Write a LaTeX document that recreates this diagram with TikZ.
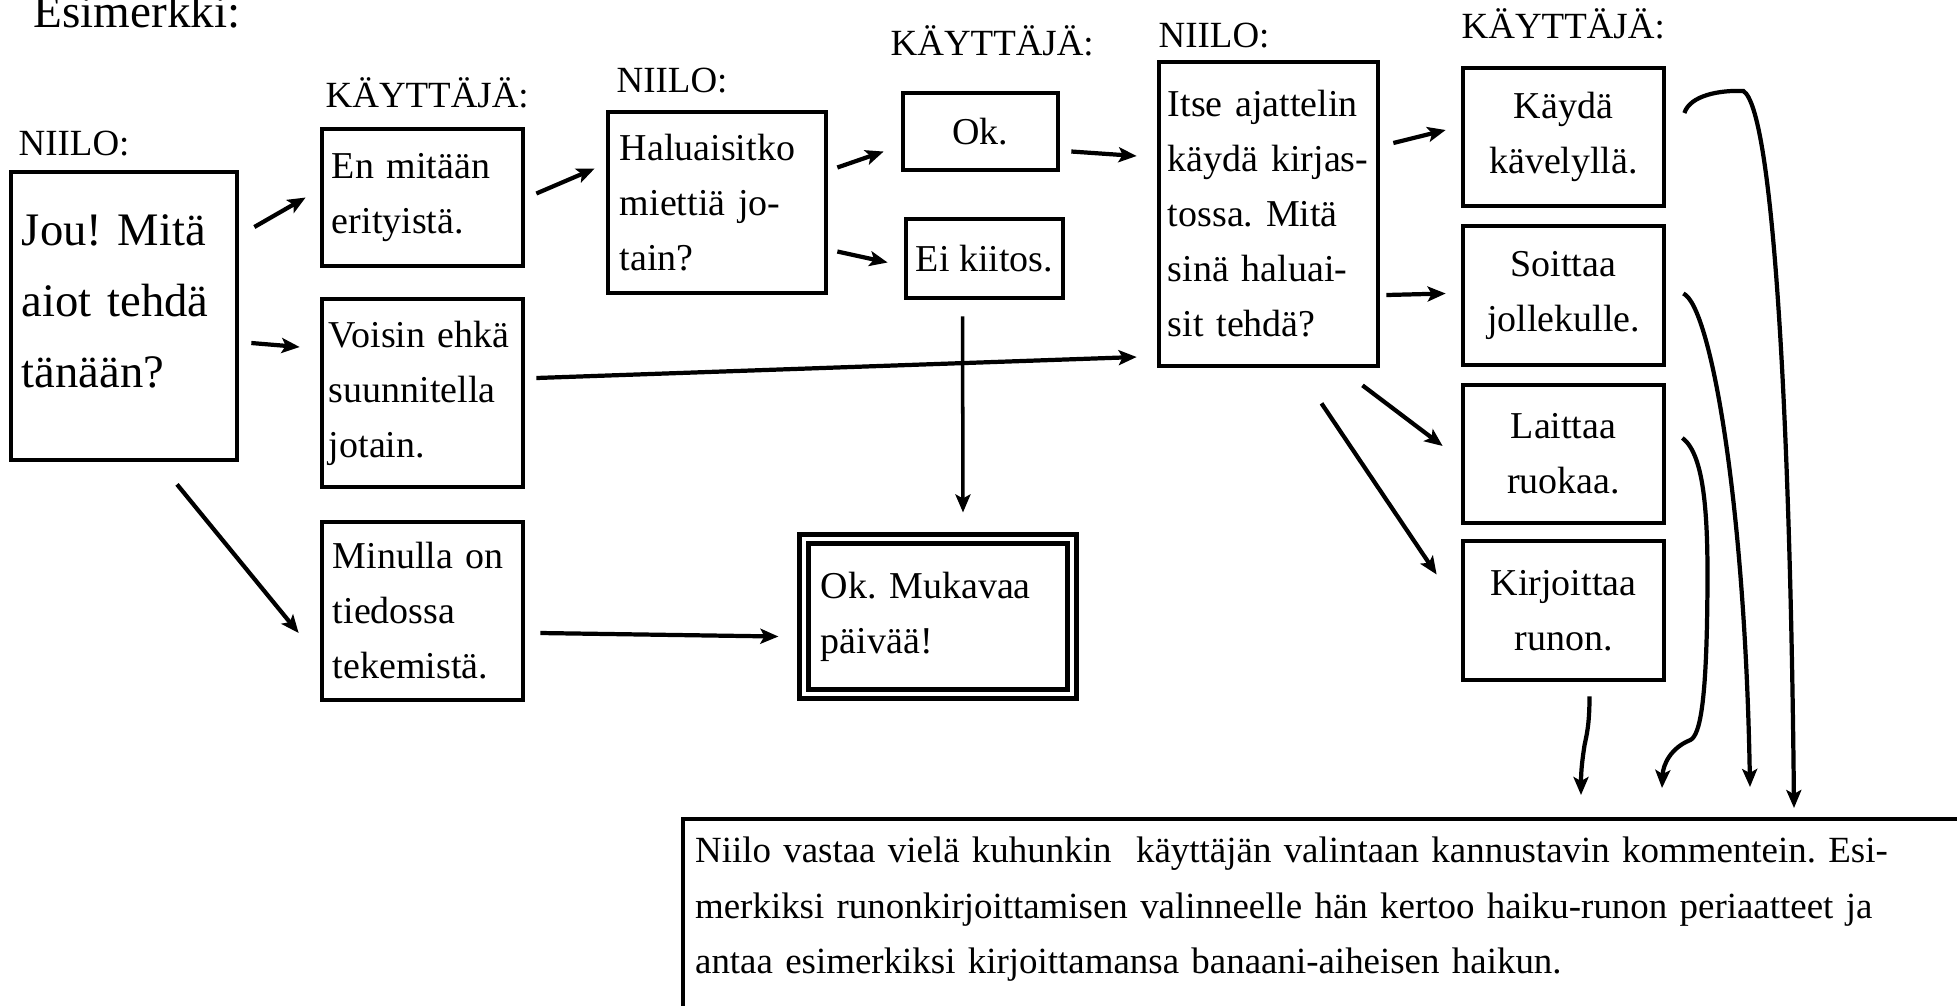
\documentclass[tikz,border=0pt]{standalone}
\usepackage{fontspec}
\setmainfont{Liberation Serif}
\usetikzlibrary{arrows.meta,calc}
\frenchspacing
\newcommand{\boxfont}{\fontsize{10.8pt}{15.65pt}\selectfont}
\newcommand{\jufont}{\fontsize{13.26pt}{20.3pt}\selectfont}
\newcommand{\labfont}{\fontsize{10.5pt}{12pt}\selectfont}
\newcommand{\notefont}{\fontsize{10.5pt}{15.8pt}\selectfont}
\newcommand{\titlefont}{\fontsize{13.4pt}{16pt}\selectfont}
\begin{document}
\begin{tikzpicture}[x=0.01cm, y=-0.01cm,
  box/.style={draw, line width=1.3pt, inner xsep=0.1cm, inner ysep=0pt, font=\boxfont},
  lbox/.style={box, align=left},
  cbox/.style={box, align=center, minimum width=2.01cm},
  lab/.style={anchor=base west, inner sep=0pt, font=\labfont},
  arr/.style={line width=1.2pt, -{Stealth[length=0.18cm, width=0.15cm, inset=0.04cm]}}]
    \useasboundingbox (0,0) rectangle (1957,1005);
    \clip (0,0) rectangle (1957,1005);

    % otsikot
    \node[lab, font=\titlefont] (esim) at (33,27) {Esimerkki:};
    \node[lab] (n1) at (18,155) {NIILO:};
    \node[lab] (k1) at (325,107) {KÄYTTÄJÄ:};
    \node[lab] (n2) at (616,92) {NIILO:};
    \node[lab] (k2) at (890,55) {KÄYTTÄJÄ:};
    \node[lab] (n3) at (1158,47) {NIILO:};
    \node[lab] (k3) at (1461,38) {KÄYTTÄJÄ:};

    % Niilo aloittaa
    \node[lbox, font=\jufont, inner xsep=0.11cm, text width=2.04cm, minimum height=2.88cm] (b1) at (124,316)
        {Jou! Mitä\\aiot tehdä\\tänään?\rule[-0.3cm]{0pt}{0.3cm}};

    % käyttäjän vastaukset
    \node[lbox, text width=1.81cm, minimum height=1.37cm] (b2) at (422.5,197.5) {En mitään\\erityistä.};
    \node[lbox, inner xsep=0.07cm, text width=1.87cm, minimum height=1.88cm] (b3) at (422.5,393)
        {\mbox{Voisin ehkä}\\suunnitella\\jotain.};
    \node[lbox, inner xsep=0.11cm, text width=1.79cm, minimum height=1.78cm] (b4) at (422.5,611)
        {Minulla on\\tiedossa\\tekemistä.};

    \node[lbox, inner xsep=0.12cm, text width=1.94cm, minimum height=1.81cm] (b5) at (717,202.5)
        {Haluaisitko\\miettiä jo-\\tain?};
    \node[cbox, minimum width=1.55cm, minimum height=0.77cm] (b6) at (980.5,131.5) {Ok.};
    \node[cbox, minimum width=1.55cm, minimum height=0.79cm] (b7) at (984.5,258.5) {Ei kiitos.};

    % lopetus
    \node[lbox, double, double distance=0.04cm, line width=0.05cm, inner xsep=0.17cm, text width=2.34cm,
        minimum height=1.55cm] (b8) at (938,616.5) {Ok. Mukavaa\\päivää!};

    \node[lbox, inner xsep=0.09cm, text width=2.01cm, minimum height=3.04cm] (b9) at (1268.5,214)
        {Itse ajattelin\\\mbox{käydä kirjas-}\\tossa. Mitä\\sinä haluai-\\sit tehdä?};

    % vaihtoehdot
    \node[cbox, minimum height=1.38cm] (b10) at (1563.5,137) {Käydä\\kävelyllä.};
    \node[cbox, minimum height=1.39cm] (b11) at (1563.5,295.5) {Soittaa\\jollekulle.};
    \node[cbox, minimum height=1.38cm] (b12) at (1563.5,454) {Laittaa\\ruokaa.};
    \node[cbox, minimum height=1.39cm] (b13) at (1563.5,610.5) {Kirjoittaa\\runon.};

    \node[lbox, line width=1.2pt, font=\notefont, anchor=north west, inner xsep=0.12cm, inner ysep=0.18cm,
        text width=12.9cm] (b14) at (681,817)
        {\makebox[11.98cm][s]{Niilo vastaa vielä kuhunkin\ \ käyttäjän valintaan kannustavin kommentein. Esi-}\\
         \makebox[11.98cm][s]{merkiksi runonkirjoittamisen valinneelle hän kertoo haiku-runon periaatteet ja}\\
         antaa esimerkiksi kirjoittamansa banaani-aiheisen haikun.\rule[-0.6cm]{0pt}{0.6cm}};

    % nuolet
    \draw[arr] ($(b1.east)+(15,-89)$) -- ($(b2.west)+(-14,0)$);
    \draw[arr] ($(b1.east)+(12,27)$) -- ($(b3.west)+(-20,-46)$);
    \draw[arr] ($(b1.south)+(53,22)$) -- ($(b4.west)+(-21,22)$);
    \draw[arr] ($(b2.east)+(11,-4)$) -- ($(b5.west)+(-11,-34)$);
    \draw[arr] ($(b3.east)+(11,-15)$) -- ($(b9.west)+(-20,143)$);
    \draw[arr] ($(b4.east)+(15,22)$) -- ($(b8.west)+(-23,20)$);
    \draw[arr] ($(b5.east)+(9,-35)$) -- ($(b6.west)+(-17,20)$);
    \draw[arr] ($(b5.east)+(9,49)$) -- ($(b7.west)+(-16,4)$);
    \draw[arr] ($(b6.east)+(11,20)$) -- ($(b9.west)+(-20,-58)$);
    \draw[arr, line width=1pt] ($(b7.south)+(-22,16)$) -- ($(b8.north)+(25,-24)$);
    \draw[arr] ($(b9.east)+(13,-71)$) -- ($(b10.west)+(-15,-7)$);
    \draw[arr] ($(b9.east)+(6,81)$) -- ($(b11.west)+(-15,-2)$);
    \draw[arr] ($(b9.south)+(94,17)$) -- ($(b12.west)+(-18,-8)$);
    \draw[arr] ($(b9.south)+(53,35)$) -- ($(b13.west)+(-24,-36)$);

    % kaaret alas
    \draw[arr] ($(b10.east)+(18,-24)$) .. controls +(6,-18) and +(-23,-1) .. ++(59,-22)
        .. controls +(29,18) and +(-4,-408) .. ($(b14.north west)+(1113,-9)$);
    \draw[arr] ($(b11.east)+(17,-2)$) .. controls +(27,12) and +(-5,-287) .. ($(b14.north west)+(1069,-30)$);
    \draw[arr] ($(b12.east)+(16,-16)$) .. controls +(23,17) and +(1,-80) .. ++(25,162)
        .. controls +(-1,100) and +(10,-5) .. ++(-17,140)
        .. controls +(-20,8) and +(1,-23) .. ($(b14.north west)+(981,-29)$);
    \draw[arr] ($(b13.south)+(26,14)$) .. controls +(0,29) and +(2,-10) .. ++(-5,49)
        .. controls +(-2,13) and +(0,-25) .. ($(b14.north west)+(900,-22)$);
\end{tikzpicture}
\end{document}
